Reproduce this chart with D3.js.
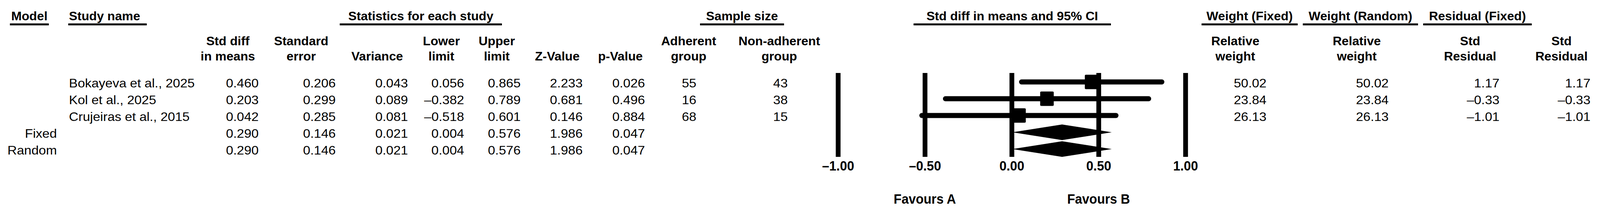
<!DOCTYPE html>
<html>
<head>
    <meta charset="utf-8">
    <script src="https://d3js.org/d3.v7.min.js"></script>
    <style>
        html, body { margin: 0; padding: 0; background: #fff; overflow: hidden; width: 100%; height: 100%; }
        svg { display: block; width: 100vw; height: 100vh; }
        text { font-family: "Liberation Sans", Arial, sans-serif; fill: #000; }
    </style>
</head>
<body>
    <svg viewBox="0 0 4361 551" preserveAspectRatio="none"></svg>

    <script>
        // rows: 3 studies, then the two pooled models
        var studyNames = ["Bokayeva et al., 2025", "Kol et al., 2025", "Crujeiras et al., 2015"];
        var modelNames = ["Fixed", "Random"];

        var stdDiff  = [0.460, 0.203, 0.042, 0.290, 0.290];
        var stdErr   = [0.206, 0.299, 0.285, 0.146, 0.146];
        var variance = [0.043, 0.089, 0.081, 0.021, 0.021];
        var lower    = [0.056, -0.382, -0.518, 0.004, 0.004];
        var upper    = [0.865, 0.789, 0.601, 0.576, 0.576];
        var zValue   = [2.233, 0.681, 0.146, 1.986, 1.986];
        var pValue   = [0.026, 0.496, 0.884, 0.047, 0.047];

        var nAdherent    = [55, 16, 68];
        var nNonAdherent = [43, 38, 15];

        var weightFixed  = [50.02, 23.84, 26.13];
        var weightRandom = [50.02, 23.84, 26.13];
        var residFixed   = [1.17, -0.33, -1.01];
        var residRandom  = [1.17, -0.33, -1.01];

        var axisTicks = [-1, -0.5, 0, 0.5, 1];
        var favours = ["Favours A", "Favours B"];

        var svg = d3.select("svg");
        svg.append("rect").attr("width", 4361).attr("height", 551).attr("fill", "#fff");

        // row centre (for marks) and text baseline
        var rowY = d3.scaleLinear().domain([0, 4]).range([210, 382]);
        function baseY(i) { return rowY(i) + 14; }

        var x = d3.scaleLinear().domain([-1, 1]).range([2284, 3231]);

        function dash(s) { return s.replace(/[-\u2212]/g, "\u2013"); }
        var f3 = function(d) { return dash(d3.format(".3f")(d)); };
        var f2 = function(d) { return dash(d3.format(".2f")(d)); };
        var f0 = function(d) { return String(d); };

        var DATA_SX = 1.15, HEAD_SX = 1.07;

        function addText(g, px, py, str, opt) {
            opt = opt || {};
            return g.append("text")
                .attr("transform", "translate(" + px + "," + py + ") scale(" + (opt.sx || 1) + ",1)")
                .attr("text-anchor", opt.anchor || "middle")
                .style("font-size", (opt.size || 31) + "px")
                .style("font-weight", opt.bold ? "bold" : "normal")
                .text(str);
        }

        // group headers with underline
        var groups = [
            {label: "Model", x0: 27, x1: 133, anchor: "middle"},
            {label: "Study name", x0: 186, x1: 400, anchor: "start"},
            {label: "Statistics for each study", x0: 926, x1: 1368, anchor: "middle"},
            {label: "Sample size", x0: 1908, x1: 2137, anchor: "middle"},
            {label: "Std diff in means and 95% CI", x0: 2490, x1: 3028, anchor: "middle"},
            {label: "Weight (Fixed)", x0: 3275, x1: 3537, anchor: "middle"},
            {label: "Weight (Random)", x0: 3551, x1: 3865, anchor: "middle"},
            {label: "Residual (Fixed)", x0: 3879, x1: 4175, anchor: "middle"}
        ];
        var hg = svg.append("g");
        groups.forEach(function(g) {
            var px = g.anchor === "start" ? g.x0 + 2 : (g.x0 + g.x1) / 2;
            addText(hg, px, 52, g.label, {bold: true, size: 32, sx: HEAD_SX, anchor: g.anchor});
            hg.append("rect").attr("x", g.x0).attr("y", 60).attr("width", g.x1 - g.x0).attr("height", 5).attr("fill", "#000");
        });

        // numeric columns
        var columns = [
            {head: ["Std diff", "in means"], center: 621, right: 705, values: stdDiff, fmt: f3},
            {head: ["Standard", "error"], center: 821, right: 915, values: stdErr, fmt: f3},
            {head: ["", "Variance"], center: 1028, right: 1112, values: variance, fmt: f3},
            {head: ["Lower", "limit"], center: 1203, right: 1265, values: lower, fmt: f3},
            {head: ["Upper", "limit"], center: 1354, right: 1419, values: upper, fmt: f3},
            {head: ["", "Z-Value"], center: 1519, right: 1588, values: zValue, fmt: f3},
            {head: ["", "p-Value"], center: 1691, right: 1758, values: pValue, fmt: f3},
            {head: ["Adherent", "group"], center: 1877, right: 1898, values: nAdherent, fmt: f0},
            {head: ["Non-adherent", "group"], center: 2124, right: 2147, values: nNonAdherent, fmt: f0},
            {head: ["Relative", "weight"], center: 3367, right: 3452, values: weightFixed, fmt: f2},
            {head: ["Relative", "weight"], center: 3698, right: 3785, values: weightRandom, fmt: f2},
            {head: ["Std", "Residual"], center: 4007, right: 4087, values: residFixed, fmt: f2},
            {head: ["Std", "Residual"], center: 4256, right: 4335, values: residRandom, fmt: f2}
        ];

        var tg = svg.append("g");
        columns.forEach(function(c) {
            if (c.head[0]) addText(tg, c.center, 116, c.head[0], {bold: true, size: 32, sx: HEAD_SX});
            addText(tg, c.center, 155, c.head[1], {bold: true, size: 32, sx: HEAD_SX});
            tg.append("g").selectAll("text")
                .data(c.values)
                .join("text")
                .attr("transform", function(d, i) { return "translate(" + c.right + "," + baseY(i) + ") scale(" + DATA_SX + ",1)"; })
                .attr("text-anchor", "end")
                .style("font-size", "31px")
                .text(c.fmt);
        });

        // study names and model labels
        tg.append("g").selectAll("text")
            .data(studyNames)
            .join("text")
            .attr("transform", function(d, i) { return "translate(188," + baseY(i) + ") scale(" + DATA_SX + ",1)"; })
            .style("font-size", "31px")
            .text(function(d) { return d; });
        tg.append("g").selectAll("text")
            .data(modelNames)
            .join("text")
            .attr("transform", function(d, i) { return "translate(155," + baseY(i + 3) + ") scale(" + DATA_SX + ",1)"; })
            .attr("text-anchor", "end")
            .style("font-size", "31px")
            .text(function(d) { return d; });

        // forest plot: reference lines + tick labels via axis
        var axisG = svg.append("g")
            .attr("transform", "translate(0,402)")
            .call(d3.axisBottom(x)
                .tickValues(axisTicks)
                .tickSize(-215)
                .tickFormat(function(d) { return dash(d3.format(".2f")(d)); }));
        axisG.select(".domain").remove();
        axisG.selectAll(".tick line").attr("stroke", "#000").attr("stroke-width", 13);
        axisG.selectAll(".tick text")
            .attr("y", 35).attr("dy", 0)
            .attr("fill", "#000")
            .style("font-size", "35px")
            .style("font-weight", "bold")
            .style("font-family", "'Liberation Sans', Arial, sans-serif");

        var fg = svg.append("g");
        // CI lines for studies
        fg.selectAll("line.ci")
            .data(studyNames)
            .join("line")
            .attr("class", "ci")
            .attr("x1", function(d, i) { return x(lower[i]); })
            .attr("x2", function(d, i) { return x(upper[i]); })
            .attr("y1", function(d, i) { return rowY(i); })
            .attr("y2", function(d, i) { return rowY(i); })
            .attr("stroke", "#000")
            .attr("stroke-width", 13)
            .attr("stroke-linecap", "round");

        fg.selectAll("rect.pt")
            .data(studyNames)
            .join("rect")
            .attr("class", "pt")
            .attr("x", function(d, i) { return x(stdDiff[i]) - 18.5; })
            .attr("y", function(d, i) { return rowY(i) - 18.5; })
            .attr("width", 37)
            .attr("height", 37)
            .attr("rx", 3)
            .attr("fill", "#000");

        // pooled diamonds
        fg.selectAll("path.dia")
            .data(modelNames)
            .join("path")
            .attr("class", "dia")
            .attr("fill", "#000")
            .attr("d", function(d, j) {
                var i = j + 3, cy = rowY(i);
                return "M" + x(lower[i]) + "," + cy +
                       "L" + x(stdDiff[i]) + "," + (cy - 20) +
                       "L" + x(upper[i]) + "," + cy +
                       "L" + x(stdDiff[i]) + "," + (cy + 20) + "Z";
            });

        svg.append("g").selectAll("text")
            .data(favours)
            .join("text")
            .attr("x", function(d, i) { return x(i === 0 ? -0.5 : 0.5); })
            .attr("y", 522)
            .attr("text-anchor", "middle")
            .style("font-size", "35px")
            .style("font-weight", "bold")
            .text(function(d) { return d; });
    </script>
</body>
</html>
